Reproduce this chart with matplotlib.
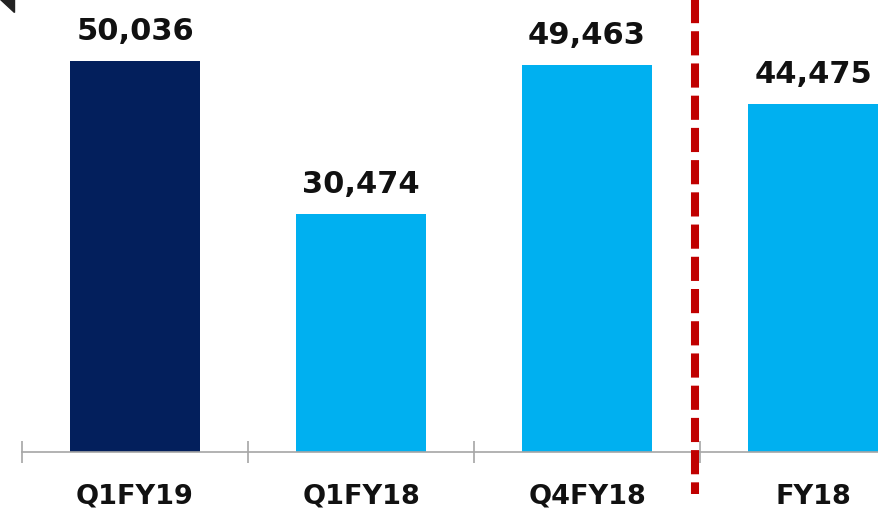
import matplotlib.pyplot as plt
from matplotlib.patches import Polygon
import matplotlib.transforms as mtransforms

# chart data
categories = ["Q1FY19", "Q1FY18", "Q4FY18", "FY18"]
values = [50036, 30474, 49463, 44475]
bar_colors = ["#031f5c", "#00b0f0", "#00b0f0", "#00b0f0"]

fig = plt.figure(figsize=(8.79, 5.10), dpi=100)
ax = fig.add_axes([22 / 879, 57 / 510, 857 / 879, 453 / 510])

x = list(range(len(categories)))
ax.bar(x, values, width=0.575, color=bar_colors, zorder=2)
ax.set_xlim(-0.5, 3.292)
ax.set_ylim(0, 57970)

# value labels above bars
for xi, v in zip(x, values):
    ax.annotate(f"{v:,}", (xi, v), xytext=(0, 16), textcoords="offset points",
                ha="center", va="baseline", fontsize=22, fontweight="bold",
                color="#111111")

# axis styling
for side in ["left", "right", "top"]:
    ax.spines[side].set_visible(False)
ax.spines["bottom"].set_color("#a6a6a6")
ax.spines["bottom"].set_linewidth(1.2)
ax.set_yticks([])
ax.set_xticks(x)
ax.set_xticklabels(categories, fontsize=19.5, fontweight="bold", color="#111111")
ax.tick_params(axis="x", which="major", length=0, pad=22)
ax.set_xticks([-0.5, 0.5, 1.5, 2.5], minor=True)
ax.tick_params(axis="x", which="minor", direction="inout", length=16,
               width=1.2, color="#a6a6a6")

# red dashed separator
trans = mtransforms.blended_transform_factory(ax.transData, ax.transAxes)
ax.plot([2.478, 2.478], [1.0, -42 / 453], transform=trans, color="#c00000",
        lw=5.8, dashes=(3, 1), clip_on=False, zorder=3, solid_capstyle="butt",
        dash_capstyle="butt")

# small corner triangle
fig.patches.append(Polygon([(0, 1), (14 / 879, 1), (14 / 879, 497 / 510)],
                           closed=True, transform=fig.transFigure,
                           color="#222222"))

fig.savefig("out.png", dpi=100)
